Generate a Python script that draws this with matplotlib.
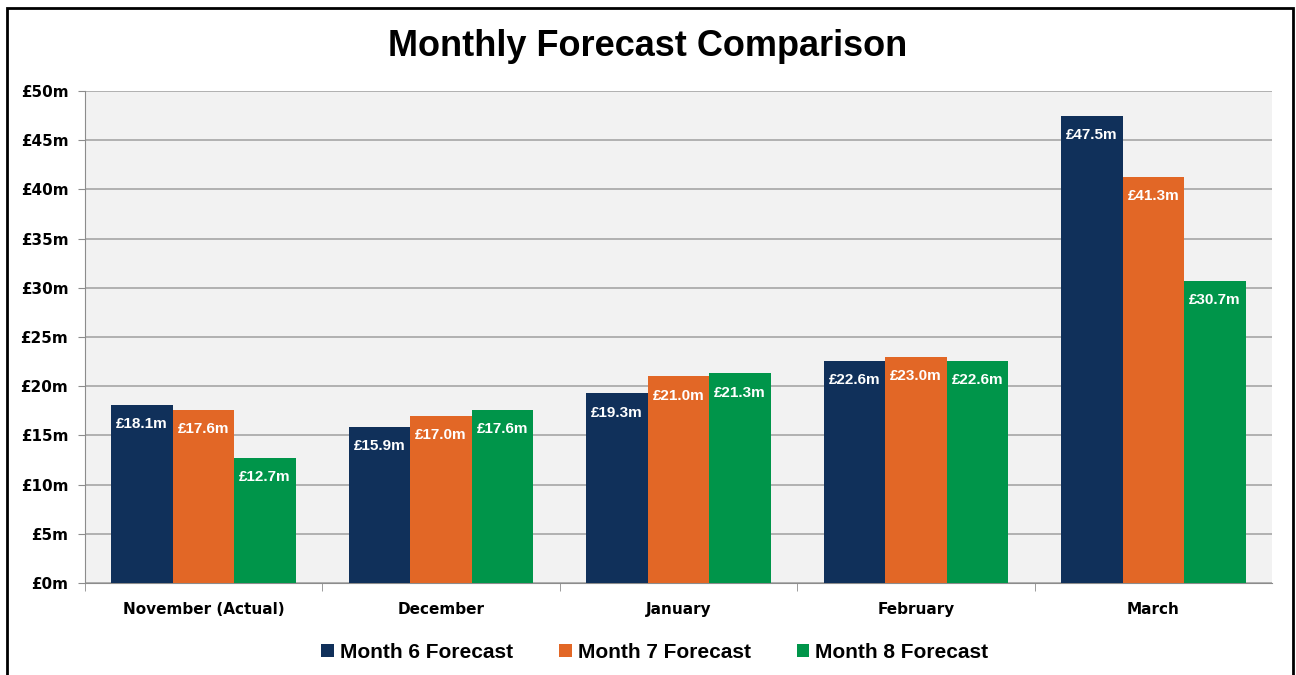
import matplotlib.pyplot as plt
import numpy as np
from matplotlib.patches import Rectangle

# Data
months = ['November (Actual)', 'December', 'January', 'February', 'March']
series = ['Month 6 Forecast', 'Month 7 Forecast', 'Month 8 Forecast']
m6 = [18.1, 15.9, 19.3, 22.6, 47.5]
m7 = [17.6, 17.0, 21.0, 23.0, 41.3]
m8 = [12.7, 17.6, 21.3, 22.6, 30.7]
y_ticks = [0, 5, 10, 15, 20, 25, 30, 35, 40, 45, 50]

colors = ['#10305A', '#E26726', '#00954A']

fig = plt.figure(figsize=(12.96, 6.75), dpi=100)
ax = fig.add_axes([85/1296, 1-583/675, (1272-85)/1296, (583-91)/675])
ax.set_facecolor('#F2F2F2')

x = np.arange(len(months))
w = 0.259
for i, (vals, name, c) in enumerate(zip([m6, m7, m8], series, colors)):
    bars = ax.bar(x + (i-1)*w, vals, w, color=c, label=name, zorder=3)
    for b, v in zip(bars, vals):
        ax.annotate('£%.1fm' % v, (b.get_x() + b.get_width()/2, v),
                    xytext=(0, -14), textcoords='offset points',
                    ha='center', va='center', color='white',
                    fontsize=11, fontweight='bold', family='Liberation Sans', zorder=4)

ax.set_xlim(-0.5, 4.5)
ax.set_ylim(0, 50)
ax.set_yticks(y_ticks)
ax.set_yticklabels(['£%dm' % t for t in y_ticks], fontsize=11, fontweight='bold', family='DejaVu Sans')
ax.yaxis.grid(True, color='#A6A6A6', linewidth=1.2, zorder=0)
ax.tick_params(axis='y', length=5, color='#8C8C8C', pad=7)

ax.set_xticks(x)
ax.set_xticklabels(months, fontsize=11, fontweight='bold', family='DejaVu Sans')
ax.tick_params(axis='x', length=0, pad=14)
ax.set_xticks(np.arange(-0.5, 4.5, 1), minor=True)
ax.tick_params(axis='x', which='minor', length=6, color='#8C8C8C')

for s in ['top', 'right']:
    ax.spines[s].set_visible(False)
for s in ['left', 'bottom']:
    ax.spines[s].set_color('#8C8C8C')

fig.text(0.5, 1-47/675, 'Monthly Forecast Comparison', ha='center', va='center',
         fontsize=26, fontweight='bold', family='Liberation Sans')

leg = fig.legend(loc='center', bbox_to_anchor=(655/1296, 1-652/675), ncol=3, frameon=False,
                 prop={'family': 'Liberation Sans', 'weight': 'bold', 'size': 15},
                 handlelength=0.6, handleheight=0.6, handletextpad=0.3, columnspacing=2.2)

fig.patches.append(Rectangle((7/1296, -0.05), (1293-7)/1296, 1.05 - 8/675,
                             transform=fig.transFigure, fill=False, edgecolor='black', linewidth=2))

fig.savefig('out.png', dpi=100)
